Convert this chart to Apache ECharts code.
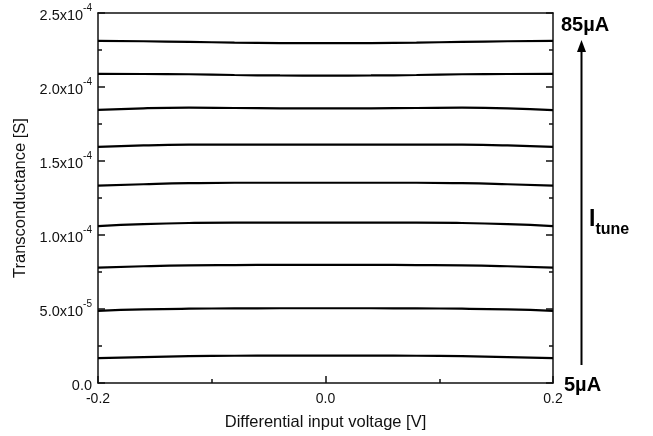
<!DOCTYPE html>
<html>
<head>
<meta charset="utf-8">
<script src="https://cdn.jsdelivr.net/npm/echarts@6/dist/echarts.min.js"></script>
<style>
  html, body { margin: 0; padding: 0; background: #fff; }
  #chart { width: 653px; height: 436px; }
</style>
</head>
<body>
<div id="chart"></div>
<script>
// 差分输入电压 [V]
var voltage = [-0.2, -0.16, -0.12, -0.08, -0.04, 0, 0.04, 0.08, 0.12, 0.16, 0.2];
// 跨导 (单位 1e-6 S), 从 5uA 到 85uA
var gm5  = [16.8, 17.5, 18.1, 18.4, 18.5, 18.5, 18.5, 18.4, 18.1, 17.5, 16.8];
var gm15 = [48.8, 49.7, 50.2, 50.4, 50.5, 50.5, 50.5, 50.4, 50.2, 49.7, 48.8];
var gm25 = [78.0, 78.9, 79.5, 79.7, 79.8, 79.8, 79.8, 79.7, 79.5, 78.9, 78.0];
var gm35 = [106.0, 107.3, 108.1, 108.4, 108.4, 108.4, 108.4, 108.4, 108.1, 107.3, 106.0];
var gm45 = [133.4, 134.3, 135.0, 135.3, 135.3, 135.3, 135.3, 135.3, 135.0, 134.3, 133.4];
var gm55 = [159.5, 160.5, 161.0, 161.1, 161.1, 161.1, 161.1, 161.1, 161.0, 160.5, 159.5];
var gm65 = [184.5, 185.6, 186.0, 185.8, 185.6, 185.5, 185.6, 185.8, 186.0, 185.6, 184.4];
var gm75 = [208.9, 208.8, 208.6, 208.1, 207.8, 207.7, 207.8, 208.1, 208.6, 208.8, 208.9];
var gm85 = [231.2, 230.9, 230.5, 230.0, 229.7, 229.6, 229.7, 230.0, 230.5, 230.9, 231.2];
var curves = [gm5, gm15, gm25, gm35, gm45, gm55, gm65, gm75, gm85];
var curveNames = ['5µA', '15µA', '25µA', '35µA', '45µA', '55µA', '65µA', '75µA', '85µA'];

var chart = echarts.init(document.getElementById('chart'));

function yLabel(v) {
    if (Math.abs(v) < 1e-12) return '{m|0.0}';
    var p = v.toExponential(1).split('e');
    return '{m|' + p[0] + 'x10}{s|' + parseInt(p[1], 10) + '}';
}

var series = [];
for (var i = 0; i < curves.length; i++) {
    var pts = [];
    for (var j = 0; j < voltage.length; j++) {
        pts.push([voltage[j], curves[i][j] * 1e-6]);
    }
    series.push({
        name: curveNames[i],
        type: 'line',
        smooth: true,
        symbol: 'none',
        lineStyle: { color: '#000', width: 2.2 },
        data: pts
    });
}

var axisLine = { show: true, onZero: false, lineStyle: { color: '#111', width: 1.5 } };

var option = {
    animation: false,
    backgroundColor: '#fff',
    textStyle: { fontFamily: 'Liberation Sans, Arial, sans-serif' },
    grid: { left: 98, right: 100, top: 13, bottom: 52 },
    xAxis: [{
        type: 'value',
        min: -0.2, max: 0.2, interval: 0.2,
        name: 'Differential input voltage [V]',
        nameLocation: 'middle', nameGap: 31,
        nameTextStyle: { fontSize: 16.5, color: '#111' },
        axisLine: axisLine,
        axisTick: { inside: true, length: 7, lineStyle: { color: '#111', width: 1.5 } },
        minorTick: { show: true, splitNumber: 2, length: 4, lineStyle: { color: '#111', width: 1.5 } },
        axisLabel: { fontSize: 14, color: '#111', margin: 9,
            formatter: function (v) { return v.toFixed(1); } },
        splitLine: { show: false }
    }, {
        type: 'value', position: 'top',
        min: -0.2, max: 0.2,
        axisLine: axisLine,
        axisTick: { show: false }, axisLabel: { show: false }, splitLine: { show: false }
    }],
    yAxis: [{
        type: 'value',
        min: 0, max: 2.5e-4, interval: 5e-5,
        name: 'Transconductance [S]',
        nameLocation: 'middle', nameGap: 67,
        nameTextStyle: { fontSize: 16.5, color: '#111' },
        axisLine: axisLine,
        axisTick: { inside: true, length: 7, lineStyle: { color: '#111', width: 1.5 } },
        minorTick: { show: true, splitNumber: 2, length: 4, lineStyle: { color: '#111', width: 1.5 } },
        axisLabel: {
            margin: 6, color: '#111',
            formatter: yLabel,
            rich: {
                m: { fontSize: 14.5, color: '#111', lineHeight: 20, verticalAlign: 'bottom' },
                s: { fontSize: 10, color: '#111', lineHeight: 20, verticalAlign: 'top' }
            }
        },
        splitLine: { show: false }
    }, {
        type: 'value', position: 'right',
        min: 0, max: 2.5e-4, interval: 5e-5,
        axisLine: axisLine,
        axisTick: { inside: true, length: 7, lineStyle: { color: '#111', width: 1.5 } },
        minorTick: { show: true, splitNumber: 2, length: 4, lineStyle: { color: '#111', width: 1.5 } },
        axisLabel: { show: false }, splitLine: { show: false }
    }],
    graphic: [
        { type: 'text', left: 561, top: 15,
          style: { text: '85µA', fontSize: 20, fontWeight: 'bold', fill: '#000', fontFamily: 'Liberation Sans, Arial' } },
        { type: 'text', left: 564, top: 375,
          style: { text: '5µA', fontSize: 20, fontWeight: 'bold', fill: '#000', fontFamily: 'Liberation Sans, Arial' } },
        { type: 'line', shape: { x1: 581.5, y1: 365, x2: 581.5, y2: 50 },
          style: { stroke: '#000', lineWidth: 2 } },
        { type: 'polygon', shape: { points: [[581.5, 40], [577, 52], [586, 52]] },
          style: { fill: '#000' } },
        { type: 'text', left: 589, top: 208,
          style: {
              text: '{a|I}{b|tune}',
              rich: {
                  a: { fontSize: 23, fontWeight: 'bold', fill: '#000', lineHeight: 30, verticalAlign: 'top' },
                  b: { fontSize: 16, fontWeight: 'bold', fill: '#000', lineHeight: 30, verticalAlign: 'bottom' }
              }
          } }
    ],
    series: series
};

chart.setOption(option);
</script>
</body>
</html>
